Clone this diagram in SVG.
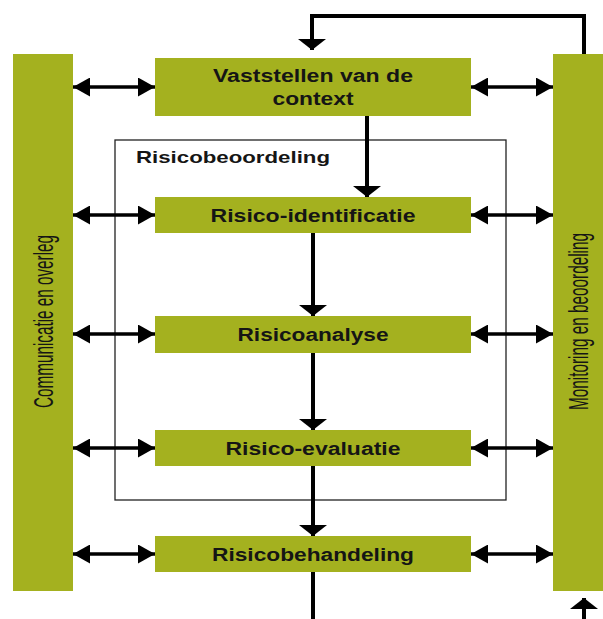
<svg xmlns="http://www.w3.org/2000/svg" width="603" height="619" viewBox="0 0 603 619">
<style>
.bar,.box{fill:#A4B11F}
.lbl{font-family:"Liberation Sans",Arial,sans-serif;font-weight:bold;font-size:18px;fill:#151515;text-anchor:middle}
.side{font-family:"Liberation Sans",Arial,sans-serif;font-size:28px;fill:#151515;text-anchor:middle}
.h{stroke:#000;stroke-width:3.5;fill:none;marker-start:url(#ah);marker-end:url(#ah)}
.v{stroke:#000;stroke-width:4;fill:none}
.va{marker-end:url(#av)}
</style>
<defs>
<marker id="ah" markerUnits="userSpaceOnUse" markerWidth="17" markerHeight="19" refX="17" refY="9.5" orient="auto-start-reverse"><path d="M0,0 L17,9.5 L0,19 Z" fill="#000"/></marker>
<marker id="av" markerUnits="userSpaceOnUse" markerWidth="11" markerHeight="28" refX="11" refY="14" orient="auto"><path d="M0,0 L11,14 L0,28 Z" fill="#000"/></marker>
</defs>
<rect width="603" height="619" fill="#fff"/>
<g id="frame">
<rect x="115" y="140" width="391" height="360" fill="none" stroke="#222" stroke-width="1.3"/>
<text x="136" y="163" style="font-family:'Liberation Sans',Arial,sans-serif;font-weight:bold;font-size:17px;fill:#151515" textLength="194" lengthAdjust="spacingAndGlyphs">Risicobeoordeling</text>
</g>
<g id="connectors">
<line class="h" x1="73" y1="87" x2="155" y2="87"/>
<line class="h" x1="471" y1="87" x2="553" y2="87"/>
<line class="h" x1="73" y1="215" x2="155" y2="215"/>
<line class="h" x1="471" y1="215" x2="553" y2="215"/>
<line class="h" x1="73" y1="334" x2="155" y2="334"/>
<line class="h" x1="471" y1="334" x2="553" y2="334"/>
<line class="h" x1="73" y1="448" x2="155" y2="448"/>
<line class="h" x1="471" y1="448" x2="553" y2="448"/>
<line class="h" x1="73" y1="554" x2="155" y2="554"/>
<line class="h" x1="471" y1="554" x2="553" y2="554"/>
<line class="v va" x1="367" y1="116" x2="367" y2="197"/>
<line class="v va" x1="313" y1="233" x2="313" y2="316"/>
<line class="v va" x1="313" y1="353" x2="313" y2="430"/>
<line class="v va" x1="313" y1="466" x2="313" y2="536"/>
<line class="v" x1="313" y1="572" x2="313" y2="619"/>
<path class="v va" d="M584,54 V16 H312 V50" stroke-width="3.5"/>
<line class="v va" x1="584" y1="619" x2="584" y2="598"/>
</g>
<g id="communicatie">
<rect class="bar" x="13" y="54" width="60" height="537"/>
<text class="side" transform="translate(53,321.5) rotate(-90)" textLength="173" lengthAdjust="spacingAndGlyphs">Communicatie en overleg</text>
</g>
<g id="monitoring">
<rect class="bar" x="553" y="54" width="52" height="537"/>
<text class="side" transform="translate(588,321.5) rotate(-90)" textLength="177" lengthAdjust="spacingAndGlyphs">Monitoring en beoordeling</text>
</g>
<g id="context">
<rect class="box" x="155" y="58" width="316" height="58"/>
<text class="lbl" x="313" y="82" textLength="200" lengthAdjust="spacingAndGlyphs">Vaststellen van de</text>
<text class="lbl" x="313" y="105" textLength="81" lengthAdjust="spacingAndGlyphs">context</text>
</g>
<g id="identificatie">
<rect class="box" x="155" y="197" width="316" height="36"/>
<text class="lbl" x="313" y="222" textLength="205" lengthAdjust="spacingAndGlyphs">Risico-identificatie</text>
</g>
<g id="analyse">
<rect class="box" x="155" y="316" width="316" height="37"/>
<text class="lbl" x="313" y="341" textLength="151" lengthAdjust="spacingAndGlyphs">Risicoanalyse</text>
</g>
<g id="evaluatie">
<rect class="box" x="155" y="430" width="316" height="36"/>
<text class="lbl" x="313" y="455" textLength="175" lengthAdjust="spacingAndGlyphs">Risico-evaluatie</text>
</g>
<g id="behandeling">
<rect class="box" x="155" y="536" width="316" height="36"/>
<text class="lbl" x="313" y="561" textLength="202" lengthAdjust="spacingAndGlyphs">Risicobehandeling</text>
</g>
</svg>
